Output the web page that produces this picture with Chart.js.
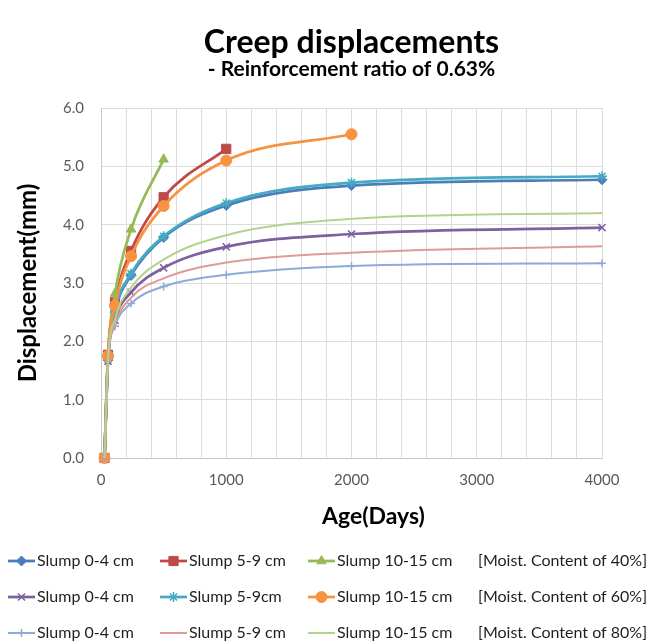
<!DOCTYPE html>
<html>
<head>
<meta charset="utf-8">
<title>Creep displacements</title>
<script src="https://cdn.jsdelivr.net/npm/chart.js@4.4.0/dist/chart.umd.min.js"></script>
<style>
  body { margin: 0; background: #fff; }
  #chart { display: block; }
</style>
</head>
<body>
<canvas id="chart" width="662" height="641"></canvas>
<script>
// ages (days) where the readings were taken
const days = [28, 56, 112, 240, 500, 1000, 2000, 4000];

// moisture content 40%
const mc40Slump0to4  = [0, 1.68, 2.50, 3.13, 3.78, 4.33, 4.67, 4.77];
const mc40Slump5to9  = [0, 1.77, 2.67, 3.55, 4.47, 5.30];
const mc40Slump10to15 = [0, 1.75, 2.82, 3.92, 5.12];

// moisture content 60%
const mc60Slump0to4  = [0, 1.66, 2.36, 2.84, 3.26, 3.62, 3.84, 3.95];
const mc60Slump5to9  = [0, 1.70, 2.53, 3.16, 3.80, 4.37, 4.72, 4.83];
const mc60Slump10to15 = [0, 1.75, 2.61, 3.46, 4.32, 5.10, 5.55];

// moisture content 80%
const mc80Slump0to4  = [0, 1.65, 2.26, 2.65, 2.94, 3.14, 3.29, 3.34];
const mc80Slump5to9  = [0, 1.66, 2.29, 2.75, 3.08, 3.35, 3.52, 3.63];
const mc80Slump10to15 = [0, 1.68, 2.38, 2.92, 3.40, 3.82, 4.10, 4.20];

const seriesLabels = [
  'Slump 0-4 cm', 'Slump 5-9 cm', 'Slump 10-15 cm',
  'Slump 0-4 cm', 'Slump 5-9cm', 'Slump 10-15 cm',
  'Slump 0-4 cm', 'Slump 5-9 cm', 'Slump 10-15 cm'
];
const moistLabels = ['[Moist. Content of 40%]', '[Moist. Content of 60%]', '[Moist. Content of 80%]'];
const yTicks = [0, 1, 2, 3, 4, 5, 6];

const seriesValues = [
  mc40Slump0to4, mc40Slump5to9, mc40Slump10to15,
  mc60Slump0to4, mc60Slump5to9, mc60Slump10to15,
  mc80Slump0to4, mc80Slump5to9, mc80Slump10to15
];

// styles (Excel 2007 palette)
const colors  = ['#4A7EBB', '#BE4B48', '#98B954', '#7D60A0', '#46AAC5', '#F69240', '#8DAAD8', '#E09A98', '#B3D38D'];
const markers = ['rectRot', 'rect', 'triangle', 'crossRot', 'star', 'circle', 'cross', 'circle', 'circle'];
const markerSize = [5, 6.5, 5.5, 5, 5, 5.5, 4, 0, 0];
const lineWidth = [2.75, 2.75, 2.75, 2.75, 2.75, 2.75, 2, 2, 2];

const FONT = 'Lato';
Chart.defaults.font.family = FONT;

const datasets = seriesValues.map((vals, i) => ({
  label: seriesLabels[i],
  data: vals.map((v, k) => ({ x: days[k], y: v })),
  borderColor: colors[i],
  backgroundColor: colors[i],
  borderWidth: lineWidth[i],
  pointStyle: markers[i],
  pointRadius: markerSize[i],
  pointBorderWidth: markers[i] === 'crossRot' || markers[i] === 'star' || markers[i] === 'cross' ? 1.5 : 1,
  cubicInterpolationMode: 'monotone',
  clip: 10,
  order: 8 - i
}));

// legend laid out as a 3x3 grid + moisture notes, and the offset x-axis title
const gridLegend = {
  id: 'gridLegend',
  afterDraw(chart) {
    const ctx = chart.ctx;
    const area = chart.chartArea;
    ctx.save();

    ctx.font = `bold 23px ${FONT}`;
    ctx.fillStyle = '#000';
    ctx.textAlign = 'center';
    ctx.textBaseline = 'middle';
    ctx.fillText('Age(Days)', (area.left + area.right) / 2 + 22, 517);

    const colX = [8, 160, 308];
    const rowY = [561, 597, 633];
    ctx.textAlign = 'left';
    ctx.font = `16px ${FONT}`;
    chart.data.datasets.forEach((ds, i) => {
      const x = colX[i % 3], y = rowY[Math.floor(i / 3)];
      ctx.strokeStyle = ds.borderColor;
      ctx.lineWidth = ds.borderWidth;
      ctx.beginPath();
      ctx.moveTo(x, y);
      ctx.lineTo(x + 27, y);
      ctx.stroke();
      if (ds.pointRadius > 0) {
        ctx.fillStyle = ds.backgroundColor;
        ctx.lineWidth = ds.pointBorderWidth;
        Chart.helpers.drawPoint(ctx, {
          pointStyle: ds.pointStyle, radius: ds.pointRadius, borderWidth: ds.pointBorderWidth, rotation: 0
        }, x + 13.5, y);
      }
      ctx.fillStyle = '#1f1f1f';
      ctx.fillText(ds.label, x + 29, y);
    });
    moistLabels.forEach((t, r) => {
      ctx.fillStyle = '#1f1f1f';
      ctx.fillText(t, 478, rowY[r]);
    });
    ctx.restore();
  }
};

new Chart(document.getElementById('chart'), {
  type: 'line',
  data: { datasets },
  options: {
    responsive: false,
    animation: false,
    layout: { padding: { left: 0, right: 60, top: 0, bottom: 143 } },
    plugins: {
      legend: { display: false },
      tooltip: { enabled: false },
      title: {
        display: true,
        fullSize: false,
        text: 'Creep displacements',
        color: '#000',
        font: { size: 32, weight: 'bold', lineHeight: 1 },
        padding: { top: 27, bottom: 0 }
      },
      subtitle: {
        display: true,
        fullSize: false,
        text: '- Reinforcement ratio of 0.63%',
        color: '#000',
        font: { size: 21, weight: 'bold', lineHeight: 1 },
        padding: { top: 0, bottom: 28 }
      }
    },
    scales: {
      x: {
        type: 'linear',
        min: 0,
        max: 4000,
        afterBuildTicks(scale) {
          const t = [];
          for (let v = 0; v <= 4000; v += 200) t.push({ value: v });
          scale.ticks = t;
        },
        afterFit(scale) { scale.height = 40; },
        grid: { color: '#DCDCDC', drawTicks: false },
        border: { color: '#C8C8C8' },
        ticks: {
          autoSkip: false,
          maxRotation: 0,
          padding: 13,
          color: '#595959',
          font: { size: 15 },
          callback: v => (v % 1000 === 0 ? String(v) : '')
        }
      },
      y: {
        min: 0,
        max: 6,
        afterBuildTicks(scale) { scale.ticks = yTicks.map(v => ({ value: v })); },
        afterFit(scale) { scale.width = 101; },
        grid: { color: '#DCDCDC', drawTicks: false },
        border: { color: '#C8C8C8' },
        ticks: {
          padding: 17,
          color: '#595959',
          font: { size: 15 },
          callback: v => v.toFixed(1)
        },
        title: {
          display: true,
          text: 'Displacement(mm)',
          color: '#000',
          font: { size: 24, weight: 'bold' },
          padding: { top: 14, bottom: 0 }
        }
      }
    }
  },
  plugins: [gridLegend]
});
</script>
</body>
</html>
